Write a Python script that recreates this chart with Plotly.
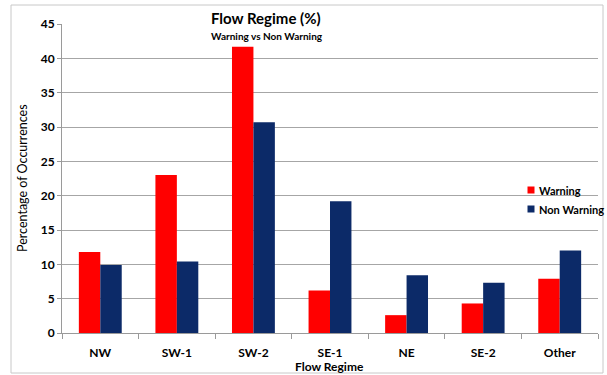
import plotly.graph_objects as go

# Flow regime categories and occurrence percentages
regimes = ["NW", "SW-1", "SW-2", "SE-1", "NE", "SE-2", "Other"]
warning = [11.8, 23.0, 41.7, 6.2, 2.6, 4.3, 7.9]
non_warning = [9.9, 10.4, 30.7, 19.2, 8.4, 7.3, 12.0]
y_ticks = [0, 5, 10, 15, 20, 25, 30, 35, 40, 45]
series_names = ["Warning", "Non Warning"]
series_colors = ["#ff0000", "#0c2a68"]

FONT = "Lato"
W, H = 607, 375
ML, MR, MT, MB = 62, 9, 24, 42
PW, PH = W - ML - MR, H - MT - MB


def px_x(px):
    return (px - ML) / PW


def px_y(py):
    return (H - MB - py) / PH


fig = go.Figure()
for name, vals, col in zip(series_names, [warning, non_warning], series_colors):
    fig.add_trace(go.Bar(x=regimes, y=vals, name=name,
                         marker=dict(color=col, line=dict(width=0))))

# Outer chart frame
shapes = [dict(type="rect", xref="paper", yref="paper",
               x0=px_x(11), x1=px_x(603), y0=px_y(373), y1=px_y(5),
               line=dict(color="#c8c8c8", width=1), layer="below")]

annotations = [
    dict(text="<b>Flow Regime (%)</b>", xref="paper", yref="paper",
         x=px_x(266), y=px_y(18), xanchor="center", yanchor="middle",
         showarrow=False, font=dict(size=15, family=FONT, color="black")),
    dict(text="<b>Warning vs Non Warning</b>", xref="paper", yref="paper",
         x=px_x(267), y=px_y(36), xanchor="center", yanchor="middle",
         showarrow=False, font=dict(size=10, family=FONT, color="black")),
    dict(text="<b>Flow Regime</b>", xref="paper", yref="paper",
         x=px_x(329), y=px_y(366), xanchor="center", yanchor="middle",
         showarrow=False, font=dict(size=12, family=FONT, color="black")),
    dict(text="Percentage of Occurrences", xref="paper", yref="paper",
         x=px_x(22), y=px_y(178), xanchor="center", yanchor="middle",
         textangle=-90, showarrow=False,
         font=dict(size=12.5, family=FONT, color="black")),
]

# Legend: small colour squares with bold labels
for i, (name, col) in enumerate(zip(series_names, series_colors)):
    cy = 190 + 19 * i
    shapes.append(dict(type="rect", xref="paper", yref="paper",
                       x0=px_x(527.5), x1=px_x(534.5),
                       y0=px_y(cy + 3.5), y1=px_y(cy - 3.5),
                       fillcolor=col, line=dict(width=0)))
    annotations.append(dict(text=f"<b>{name}</b>", xref="paper", yref="paper",
                            x=px_x(537), y=px_y(cy), xanchor="left",
                            yanchor="middle", showarrow=False,
                            font=dict(size=11, family=FONT, color="black")))

fig.update_layout(
    width=W, height=H,
    margin=dict(l=ML, r=MR, t=MT, b=MB, autoexpand=False),
    paper_bgcolor="white", plot_bgcolor="white",
    barmode="group", bargap=0.44, bargroupgap=0,
    font=dict(family=FONT, color="black"),
    showlegend=False,
    xaxis=dict(
        type="category",
        showline=True, linecolor="#9a9a9a", linewidth=1,
        ticks="outside", tickson="boundaries", ticklen=5, tickcolor="#9a9a9a",
        ticklabelstandoff=9,
        tickfont=dict(size=12, family=FONT, color="black", weight="bold"),
        showgrid=False,
    ),
    yaxis=dict(
        range=[0, 45], tickvals=y_ticks,
        showline=True, linecolor="#9a9a9a", linewidth=1,
        ticks="outside", ticklen=4, tickcolor="#9a9a9a",
        tickfont=dict(size=12, family=FONT, color="black", weight="bold"),
        showgrid=True, gridcolor="#a6a6a6", gridwidth=1,
        zeroline=False,
    ),
    shapes=shapes,
    annotations=annotations,
)

fig.write_html("out.html")
